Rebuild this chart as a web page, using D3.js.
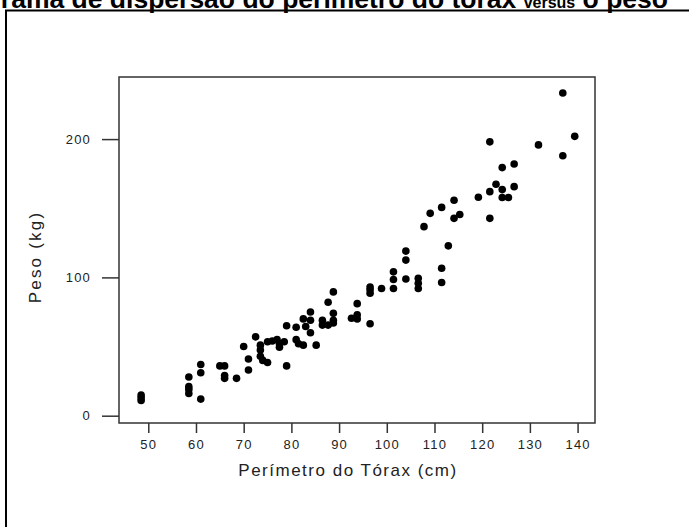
<!DOCTYPE html>
<html><head><meta charset="utf-8">
<script src="https://cdn.jsdelivr.net/npm/d3@7"></script>
<style>html,body{margin:0;padding:0;background:#fff;overflow:hidden}</style>
</head><body>
<svg id="c" width="689" height="527"></svg>
<script>
const chest = [48.5,48.5,48.5, 58.5,58.5,58.5,58.5, 61,61,61, 65,66,66,66, 68.5, 70, 71,71, 72.5,
 73.5,73.5,73.5,74,75, 75,76,77,77.5,77.5,78.5, 79,79,
 81,81,81.5,82.5,82.5,83,84,84,84, 85.2,
 86.5,86.5,87.7,87.7,88.8,88.8,88.8,88.8,
 92.6,93.8,93.8,93.8, 96.5,96.5,96.5,96.5, 98.9,
 101.4,101.4,101.4, 104,104,104, 106.6,106.6,106.6, 107.8, 109.1,
 111.5,111.5,111.5, 112.9, 114.1,114.1,115.3, 119.2,
 121.6,121.6,121.6, 122.9, 124.2,124.2,124.2,125.5, 126.7,126.7,
 131.8, 136.9,136.9, 139.4];
const weight = [15,13,11, 28,21,19,16, 37,31,12, 36,36,29,27, 27, 50, 41,33, 57,
 51,47.5,43,40,38.5, 53.5,54,55,52,49.5,53.5, 65,36,
 64,55,52,51,70,64.5,75,69,60, 51,
 69,65.5,82,65.5,89.5,74,69,67,
 70.5,81,73,70, 93,91,88.5,66.5, 92,
 104,98.5,92, 119,112.5,98.8, 99.3,95.7,92, 136.7, 146.3,
 150.6,106.6,96.3, 122.8, 155.8,142.7,145.5, 157.9,
 198,162,142.7, 167.3, 179.4,163.5,157.8,157.8, 182,165.6,
 195.8, 233.3,188, 202];
const xTicks = [50,60,70,80,90,100,110,120,130,140];
const yTicks = [0,100,200];

const svg = d3.select('#c');
const L = 119, R = 595, T = 77, B = 423;
const x = d3.scaleLinear().domain([43.86, 143.65]).range([L, R]);
const y = d3.scaleLinear().domain([-5.28, 244.9]).range([B, T]);
const font = 'Liberation Sans, Arial, sans-serif';

// title (cut off at the top, as in the reference)
const title = svg.append('text').attr('x', 668).attr('y', 8).attr('text-anchor', 'end')
  .attr('font-family', font).attr('font-weight', 'bold')
  .attr('font-size', 26.5).attr('fill', '#000');
title.append('tspan').text('Diagrama de dispersão do perímetro do tórax ');
title.append('tspan').attr('font-size', 16).text('versus');
title.append('tspan').text(' o peso');

// outer frame
svg.append('rect').attr('x', 6).attr('y', 10.5).attr('width', 720).attr('height', 600)
  .attr('fill', 'none').attr('stroke', '#000').attr('stroke-width', 2);

// plot frame
svg.append('rect').attr('x', L).attr('y', T).attr('width', R - L).attr('height', B - T)
  .attr('fill', 'none').attr('stroke', '#333').attr('stroke-width', 1.5);

const xAxis = svg.append('g').attr('transform', `translate(0,${B})`)
  .call(d3.axisBottom(x).tickValues(xTicks).tickSize(10).tickPadding(7).tickFormat(d3.format('d')));
xAxis.select('.domain').remove();
const yAxis = svg.append('g').attr('transform', `translate(${L},0)`)
  .call(d3.axisLeft(y).tickValues(yTicks).tickSize(17).tickPadding(11).tickFormat(d3.format('d')));
yAxis.select('.domain').remove();
svg.selectAll('.tick line').attr('stroke', '#333').attr('stroke-width', 1.5);
svg.selectAll('.tick text').attr('font-family', font)
  .attr('font-size', 13).attr('letter-spacing', 1.2).attr('fill', '#222');

svg.append('text').attr('x', 348).attr('y', 476).attr('text-anchor', 'middle')
  .attr('font-family', font).attr('font-size', 17).attr('letter-spacing', 1.5).attr('fill', '#222')
  .text('Perímetro do Tórax (cm)');
svg.append('text').attr('transform', `translate(41,257) rotate(-90)`).attr('text-anchor', 'middle')
  .attr('font-family', font).attr('font-size', 17).attr('letter-spacing', 2.2).attr('fill', '#222')
  .text('Peso (kg)');

svg.append('g').selectAll('circle').data(chest).join('circle')
  .attr('cx', (d) => x(d)).attr('cy', (d, i) => y(weight[i])).attr('r', 3.8).attr('fill', '#000');
</script>
</body></html>
